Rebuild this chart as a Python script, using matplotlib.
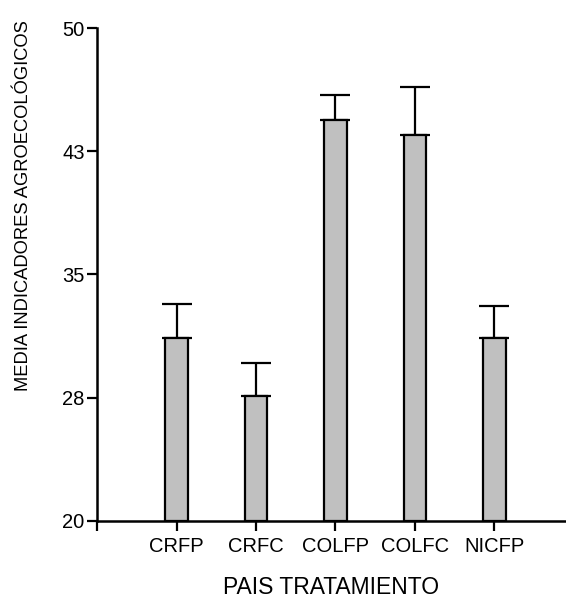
import matplotlib
matplotlib.use("Agg")
import matplotlib.pyplot as plt

# data
categories = ["CRFP", "CRFC", "COLFP", "COLFC", "NICFP"]
means = [31.1, 27.6, 44.4, 43.5, 31.1]
errors = [2.1, 2.0, 1.5, 2.9, 2.0]
ytick_values = [20, 27.5, 35, 42.5, 50]
ytick_labels = ["20", "28", "35", "43", "50"]

plt.rcParams['font.family'] = ['Liberation Sans', 'DejaVu Sans']

fig = plt.figure(figsize=(5.66, 5.99), dpi=100)
ax = fig.add_axes([0.1714, 0.1307, 0.8286, 0.8225])

x = list(range(1, len(categories) + 1))
ax.bar(x, [m - 20 for m in means], bottom=20, width=0.28,
       color='#c0c0c0', edgecolor='black', linewidth=1.6, zorder=2)
ax.errorbar(x, means, yerr=[[0] * len(errors), errors], fmt='none',
            ecolor='black', elinewidth=1.6, capsize=11, capthick=1.6, zorder=1)

ax.set_xlim(0, 5.9)
ax.set_ylim(20, 50)
ax.set_yticks(ytick_values)
ax.set_yticklabels(ytick_labels, fontsize=14.5)
ax.set_xticks([0] + x)
ax.set_xticklabels([""] + categories, fontsize=14.5)

ax.spines['top'].set_visible(False)
ax.spines['right'].set_visible(False)
ax.spines['left'].set_linewidth(1.8)
ax.spines['bottom'].set_linewidth(1.8)
ax.tick_params(axis='both', length=7, width=1.6, color='black')
ax.tick_params(axis='x', pad=5)
ax.tick_params(axis='y', pad=2)

ax.set_xlabel("PAIS TRATAMIENTO", fontsize=16.5, labelpad=14)
ax.set_ylabel("MEDIA INDICADORES AGROECOLÓGICOS", fontsize=13.2)
ax.yaxis.set_label_coords(-0.138, 0.64)

fig.savefig("out.png", dpi=100)
plt.close(fig)
